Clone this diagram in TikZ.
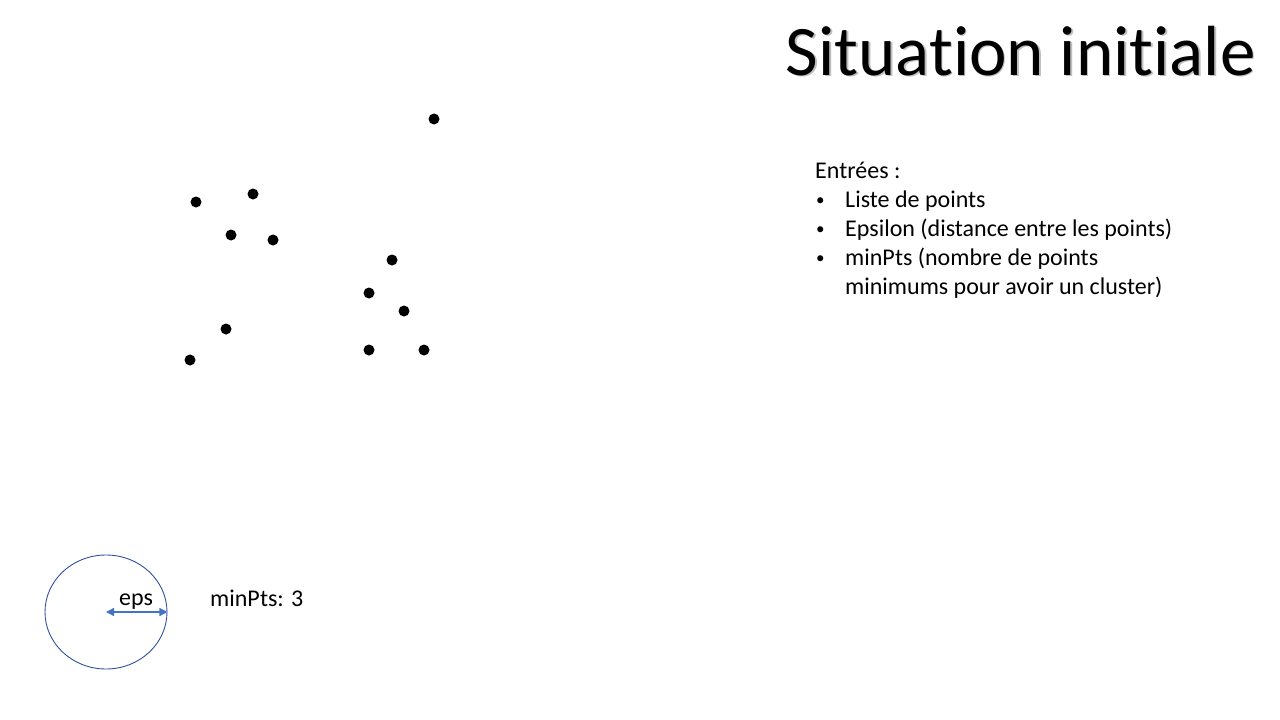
\documentclass[tikz,border=0pt]{standalone}
\usepackage{fontspec}
\setmainfont{Carlito}[Ligatures={NoCommon}]
\usepackage{tikz}
\usepackage{xcolor}
\usetikzlibrary{calc, arrows.meta, shapes.geometric}

\definecolor{epsblue}{RGB}{68,114,196}
\definecolor{ringblue}{RGB}{47,82,160}

\begin{document}
\begin{tikzpicture}[x=1pt, y=-1pt,
      pt/.style={
        circle,
        fill=black,
        inner sep=0pt,
        minimum size=11pt
      },
      txt/.style={
        anchor=base west,
        inner sep=0pt,
        font=\fontsize{24}{29}\selectfont
      },
      bullet/.style={
        txt,
        font=\fontsize{17}{20}\selectfont
      },
      >={Triangle[length=8pt,width=8pt]}]

    \useasboundingbox (0,0) rectangle (1280,720);

    % title with its shadow
    \node[anchor=base east,inner sep=0pt,text=black!25,
      font=\fontsize{71}{85}\selectfont] (titleshadow) at (1257.5,76.5) {Situation initiale};
    \node[anchor=base east,inner sep=0pt,
      font=\fontsize{71}{85}\selectfont] (title) at (1256,75) {Situation initiale};

    % the points
    \node[pt] (p1) at (434,119) {};
    \node[pt] (p2) at (196,202) {};
    \node[pt] (p3) at (253,194) {};
    \node[pt] (p4) at (231,235) {};
    \node[pt] (p5) at (273,240) {};
    \node[pt] (p6) at (392,260) {};
    \node[pt] (p7) at (369,293) {};
    \node[pt] (p8) at (404,311) {};
    \node[pt] (p9) at (226,329) {};
    \node[pt] (p10) at (190,360) {};
    \node[pt] (p11) at (369,350) {};
    \node[pt] (p12) at (424,350) {};

    % inputs
    \node[txt] (inputs) at (815,178) {Entrées :};
    \node[bullet] (b1) at (816,205) {•};
    \node[txt] (l1) at (845,207) {Liste de points};
    \node[bullet] (b2) at (816,234) {•};
    \node[txt] (l2) at (845,236) {Epsilon (distance entre les points)};
    \node[bullet] (b3) at (816,263) {•};
    \node[txt] (l3) at (845,265) {minPts (nombre de points};
    \node[txt] (l4) at (845,294) {minimums pour avoir un cluster)};

    % eps circle
    \node[draw=ringblue,line width=0.9pt,ellipse,inner sep=0pt,
      minimum width=122pt,minimum height=114pt] (ring) at (106,612) {};
    \coordinate (c) at (106,612);
    \draw[<->,draw=epsblue,line width=1.3pt] (c) -- (ring.east);
    \node[txt,anchor=base] (eps) at (136,605) {eps};
    \node[txt] (minpts) at (210,606) {minPts: 3};
  \end{tikzpicture}
\end{document}
